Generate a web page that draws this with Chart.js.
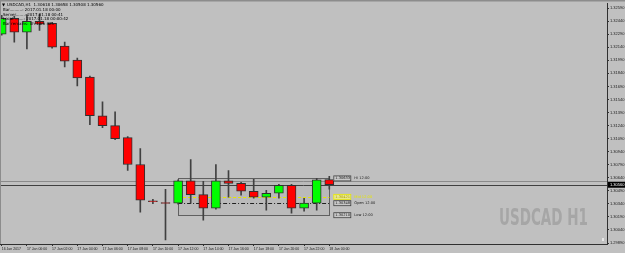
<!DOCTYPE html>
<html>
<head>
<meta charset="utf-8">
<script src="https://cdn.jsdelivr.net/npm/chart.js@4.4.0/dist/chart.umd.min.js"></script>
<style>
  html, body { margin: 0; padding: 0; background: #c0c0c0; }
</style>
</head>
<body>
<canvas id="chart" width="625" height="253"></canvas>
<script>
// USDCAD H1 candles, 16 Jan 22:00 .. 18 Jan 00:00
const hours = [
  '16 Jan 22:00', '16 Jan 23:00', '17 Jan 00:00', '17 Jan 01:00', '17 Jan 02:00', '17 Jan 03:00',
  '17 Jan 04:00', '17 Jan 05:00', '17 Jan 06:00', '17 Jan 07:00', '17 Jan 08:00', '17 Jan 09:00',
  '17 Jan 10:00', '17 Jan 11:00', '17 Jan 12:00', '17 Jan 13:00', '17 Jan 14:00', '17 Jan 15:00',
  '17 Jan 16:00', '17 Jan 17:00', '17 Jan 18:00', '17 Jan 19:00', '17 Jan 20:00', '17 Jan 21:00',
  '17 Jan 22:00', '17 Jan 23:00', '18 Jan 00:00'
];
const opens  = [1.32290, 1.32472, 1.32312, 1.32438, 1.32415, 1.32152, 1.31993, 1.31798, 1.31353, 1.31239, 1.31101, 1.30793, 1.30376, 1.30356, 1.30348, 1.30604, 1.30447, 1.30290, 1.30604, 1.30576, 1.30485, 1.30416, 1.30462, 1.30553, 1.30290, 1.30348, 1.30618];
const highs  = [1.32507, 1.32495, 1.32514, 1.32521, 1.32427, 1.32198, 1.32015, 1.31810, 1.31513, 1.31399, 1.31113, 1.30976, 1.30393, 1.30507, 1.30616, 1.30850, 1.30599, 1.30793, 1.30724, 1.30587, 1.30622, 1.30496, 1.30564, 1.30564, 1.30405, 1.30633, 1.30658];
const lows   = [1.32278, 1.32198, 1.32122, 1.32332, 1.32130, 1.31913, 1.31696, 1.31250, 1.31216, 1.31079, 1.30725, 1.30245, 1.30342, 1.29925, 1.30336, 1.30348, 1.30153, 1.30279, 1.30416, 1.30439, 1.30405, 1.30268, 1.30405, 1.30233, 1.30256, 1.30268, 1.30508];
const closes = [1.32472, 1.32312, 1.32438, 1.32404, 1.32141, 1.31981, 1.31787, 1.31353, 1.31239, 1.31090, 1.30793, 1.30382, 1.30365, 1.30345, 1.30604, 1.30447, 1.30290, 1.30604, 1.30576, 1.30485, 1.30416, 1.30462, 1.30553, 1.30290, 1.30348, 1.30616, 1.30560];

// axis ticks
const xTickPos = [0, 2, 4, 6, 8, 10, 12, 14, 16, 18, 20, 22, 24, 26];
const xTickLabels = ['16 Jan 2017', '17 Jan 00:00', '17 Jan 02:00', '17 Jan 04:00', '17 Jan 06:00', '17 Jan 08:00',
  '17 Jan 10:00', '17 Jan 12:00', '17 Jan 14:00', '17 Jan 16:00', '17 Jan 18:00', '17 Jan 20:00', '17 Jan 22:00', '18 Jan 00:00'];
const yTicks = [1.32590, 1.32440, 1.32290, 1.32140, 1.31990, 1.31840, 1.31690, 1.31540, 1.31390, 1.31240,
  1.31090, 1.30940, 1.30790, 1.30640, 1.30490, 1.30340, 1.30190, 1.30040, 1.29890];

// levels of the 12:00 box
const boxStart = 14, boxEnd = 26;
const levelHi = 1.30633, levelMid = 1.30421, levelOpen = 1.30348, levelLow = 1.30210;
const bidPrice = 1.30560, linePrice = 1.30607;

const header = [
  'USDCAD,H1  1.30618 1.30658 1.30508 1.30560',
  'Bar..........: 2017.01.18 00:00',
  'Server.......: 2017.01.18 00:41',
  'Local........: 2017.01.18 00:00:42',
  'Bar remains: 0h 18m 42s'
];

const BG = '#c0c0c0';
const isBull = closes.map((c, i) => c >= opens[i]);

const overlay = {
  id: 'overlay',
  beforeDraw(chart) {
    const ctx = chart.ctx;
    ctx.save();
    ctx.fillStyle = BG;
    ctx.fillRect(0, 0, chart.width, chart.height);
    ctx.restore();
  },
  beforeDatasetsDraw(chart) {
    const { ctx, chartArea: a, scales: { x, y } } = chart;
    ctx.save();
    // watermark
    ctx.font = 'bold 23px "DejaVu Sans", sans-serif';
    const w = ctx.measureText('USDCAD H1').width;
    ctx.translate(a.right - 108, a.bottom - 19);
    ctx.scale(89 / w, 1);
    ctx.fillStyle = '#a6a6a6';
    ctx.textBaseline = 'alphabetic';
    ctx.fillText('USDCAD H1', 0, 0);
    ctx.restore();

    ctx.save();
    // 12:00 box
    const x0 = x.getPixelForValue(boxStart), x1 = x.getPixelForValue(boxEnd);
    const yHi = y.getPixelForValue(levelHi), yLo = y.getPixelForValue(levelLow);
    ctx.fillStyle = 'rgba(0,0,0,0.03)';
    ctx.fillRect(x0, yHi, x1 - x0, yLo - yHi);
    ctx.strokeStyle = '#606060';
    ctx.lineWidth = 1;
    ctx.strokeRect(Math.round(x0) + 0.5, Math.round(yHi) + 0.5, Math.round(x1 - x0), Math.round(yLo - yHi));

    // full width price lines
    ctx.beginPath();
    ctx.strokeStyle = '#8a8a8a';
    const yl = Math.round(y.getPixelForValue(linePrice)) + 0.5;
    ctx.moveTo(a.left, yl); ctx.lineTo(a.right, yl);
    ctx.stroke();
    ctx.beginPath();
    ctx.strokeStyle = '#404040';
    const yb = Math.round(y.getPixelForValue(bidPrice)) + 0.5;
    ctx.moveTo(a.left, yb); ctx.lineTo(a.right, yb);
    ctx.stroke();

    // mid (yellow dashed) and open (dash-dot)
    const ym = Math.round(y.getPixelForValue(levelMid)) + 0.5;
    ctx.beginPath();
    ctx.setLineDash([3, 2]);
    ctx.strokeStyle = '#e6e600';
    ctx.moveTo(x0, ym); ctx.lineTo(x1, ym);
    ctx.stroke();
    const yo = Math.round(y.getPixelForValue(levelOpen)) + 0.5;
    ctx.beginPath();
    ctx.setLineDash([4, 2, 1, 2]);
    ctx.strokeStyle = '#202020';
    ctx.moveTo(x0, yo); ctx.lineTo(x1, yo);
    ctx.stroke();
    ctx.restore();
  },
  afterDraw(chart) {
    const { ctx, chartArea: a, scales: { x, y } } = chart;
    ctx.save();
    // level labels right of the box
    const bx = x.getPixelForValue(boxEnd) + 4;
    const labels = [
      [levelHi, 'Hi 12:00', '#202020', '#c8c8c8'],
      [levelMid, 'Mid 12:00', '#e6e600', '#e8e890'],
      [levelOpen, 'Open 12:00', '#202020', '#c8c8c8'],
      [levelLow, 'Low 12:00', '#202020', '#c8c8c8']
    ];
    ctx.font = '3.6px "DejaVu Sans"';
    ctx.textBaseline = 'middle';
    labels.forEach(([v, txt, col, fill]) => {
      const py = y.getPixelForValue(v);
      ctx.fillStyle = fill;
      ctx.fillRect(bx, py - 2.5, 17, 5);
      ctx.strokeStyle = col === '#202020' ? '#404040' : col;
      ctx.lineWidth = 0.8;
      ctx.strokeRect(bx + 0.5, py - 2.5, 17, 5);
      ctx.fillStyle = col === '#202020' ? '#202020' : '#b0a000';
      ctx.fillText(v.toFixed(5), bx + 2, py);
      ctx.fillStyle = col;
      ctx.fillText(txt, bx + 21, py);
    });

    // current price box on the axis
    const yb = y.getPixelForValue(bidPrice);
    ctx.fillStyle = '#000';
    ctx.fillRect(a.right + 1, yb - 3, chart.width - a.right - 1, 6);
    ctx.fillStyle = '#fff';
    ctx.font = '4px "Liberation Sans"';
    ctx.fillText(bidPrice.toFixed(5), a.right + 3, yb);

    // info header
    ctx.fillStyle = '#000';
    ctx.font = '4px "DejaVu Sans"';
    ctx.textBaseline = 'middle';
    ctx.fillText('\u25BC', a.left + 2, 4.5);
    const rowsY = [4.5, 10, 14.7, 19, 23.5];
    header.forEach((t, i) => ctx.fillText(t, a.left + (i === 0 ? 7 : 3), rowsY[i]));

    // top strip and left edge
    ctx.fillStyle = '#8c8c8c';
    ctx.fillRect(0, 0, chart.width, 1.5);
    ctx.fillRect(0, 0, 1, a.bottom);
    // small marker bottom right
    ctx.fillStyle = '#e8e8e8';
    ctx.fillRect(a.right - 5, a.bottom - 6, 2, 3);
    ctx.restore();
  }
};

const chart = new Chart(document.getElementById('chart'), {
  type: 'bar',
  data: {
    datasets: [
      {
        label: 'body',
        data: hours.map((h, i) => ({ x: i, y: [opens[i], closes[i]] })),
        backgroundColor: isBull.map(b => b ? '#00ff00' : '#ff0000'),
        borderColor: '#303030',
        borderWidth: 1,
        borderSkipped: false,
        barThickness: 9,
        grouped: false,
        order: 0
      },
      {
        label: 'wick',
        data: hours.map((h, i) => ({ x: i, y: [lows[i], highs[i]] })),
        backgroundColor: '#404040',
        borderWidth: 0,
        barThickness: 1,
        grouped: false,
        order: 1
      }
    ]
  },
  options: {
    responsive: false,
    animation: false,
    events: [],
    layout: { padding: { top: 2, left: 0, right: 0, bottom: 0 } },
    plugins: { legend: { display: false }, tooltip: { enabled: false } },
    scales: {
      x: {
        type: 'linear',
        position: 'bottom',
        offset: false,
        min: -0.135,
        max: 48.04,
        afterBuildTicks: s => { s.ticks = xTickPos.map(v => ({ value: v })); },
        afterFit: s => { s.height = 9; s.paddingLeft = 0; s.paddingRight = 0; },
        grid: { display: true, offset: false, drawOnChartArea: false, drawTicks: true, tickLength: 2, color: '#303030' },
        border: { display: true, color: '#303030', width: 1 },
        ticks: {
          autoSkip: false,
          maxRotation: 0,
          align: 'start',
          padding: 1,
          color: '#202020',
          font: { family: 'Liberation Sans', size: 3.5 },
          callback: v => xTickLabels[xTickPos.indexOf(v)]
        }
      },
      y: {
        type: 'linear',
        position: 'right',
        min: 1.298791,
        max: 1.326437,
        afterBuildTicks: s => { s.ticks = yTicks.map(v => ({ value: v })); },
        afterFit: s => { s.width = 18; },
        grid: { display: true, drawOnChartArea: false, drawTicks: true, tickLength: 2, color: '#303030' },
        border: { display: true, color: '#303030', width: 1 },
        ticks: {
          padding: 1,
          color: '#202020',
          font: { family: 'Liberation Sans', size: 4 },
          callback: v => v.toFixed(5)
        }
      }
    }
  },
  plugins: [overlay]
});
</script>
</body>
</html>
